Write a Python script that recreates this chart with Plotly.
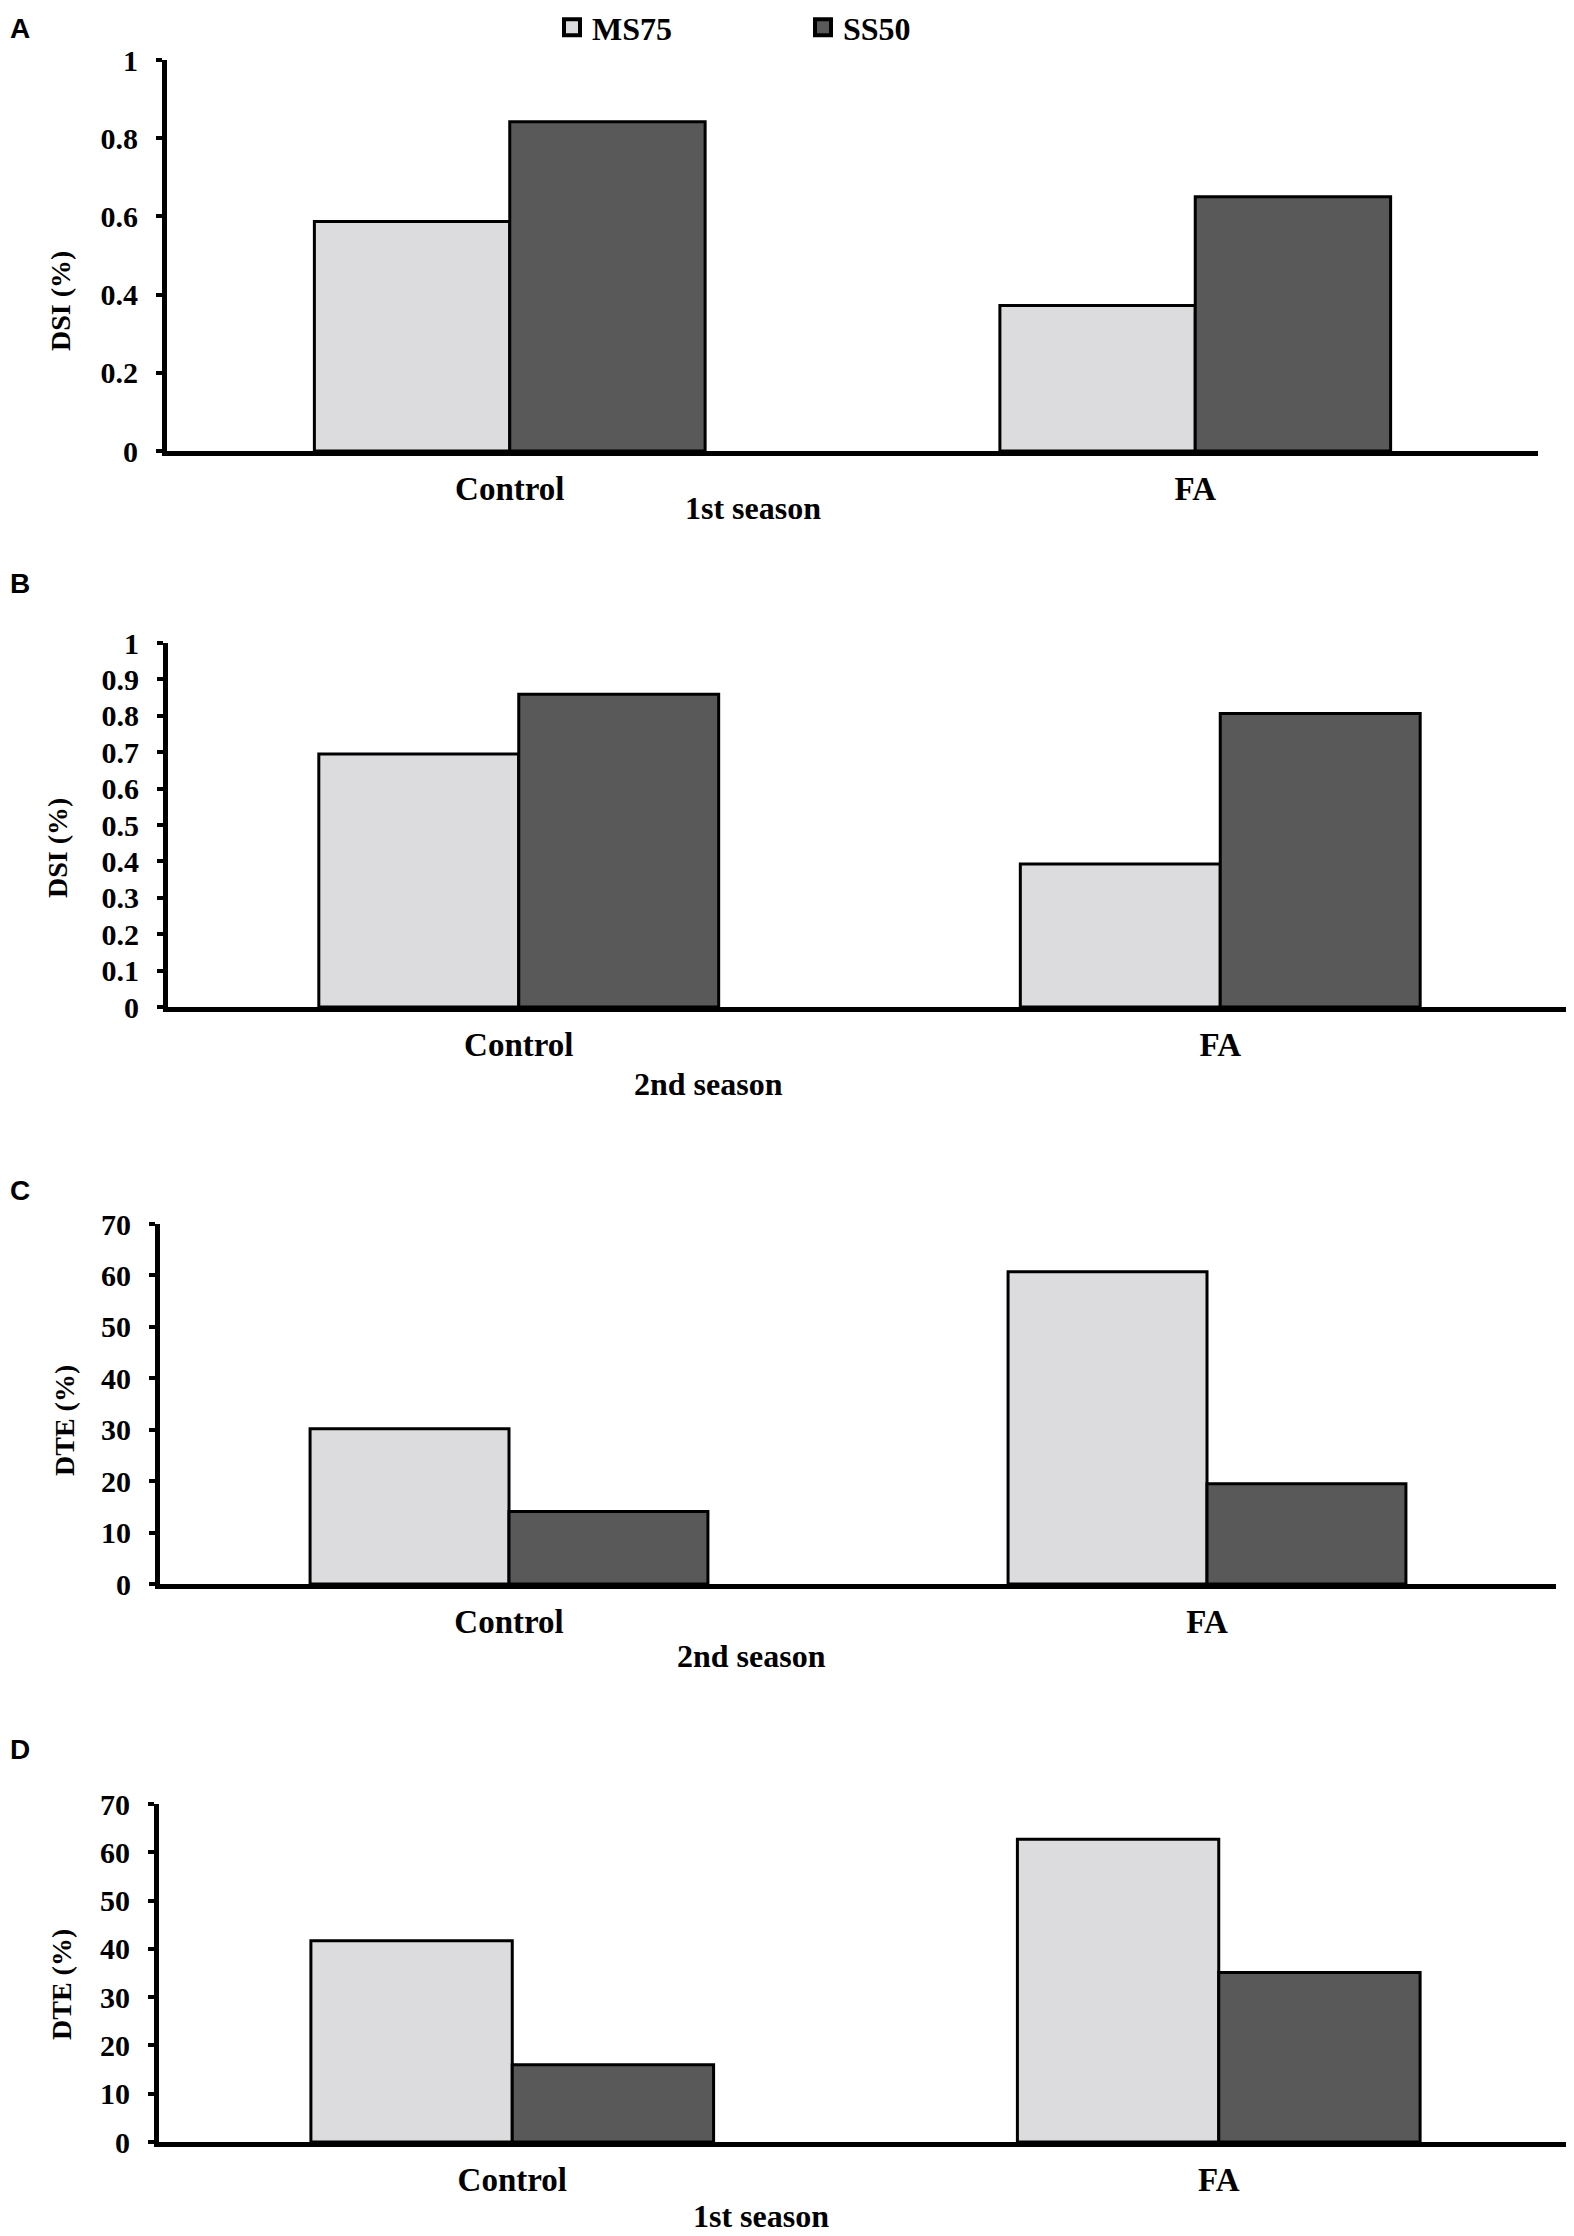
import plotly.graph_objects as go

categories = ["Control", "FA"]

# panel values
dsi_1st_ms75 = [0.587, 0.372]
dsi_1st_ss50 = [0.842, 0.650]
dsi_2nd_ms75 = [0.695, 0.393]
dsi_2nd_ss50 = [0.859, 0.806]
dte_2nd_ms75 = [30.2, 60.7]
dte_2nd_ss50 = [14.1, 19.5]
dte_1st_ms75 = [41.7, 62.7]
dte_1st_ss50 = [16.0, 35.1]

panels = [
    ("A", dsi_1st_ms75, dsi_1st_ss50, "DSI (%)", "1st season", [0, 1], 0.2),
    ("B", dsi_2nd_ms75, dsi_2nd_ss50, "DSI (%)", "2nd season", [0, 1], 0.1),
    ("C", dte_2nd_ms75, dte_2nd_ss50, "DTE (%)", "2nd season", [0, 70], 10),
    ("D", dte_1st_ms75, dte_1st_ss50, "DTE (%)", "1st season", [0, 70], 10),
]

# page body has an 8px margin, so the figure is sized to fit inside it
OFF = 8
W, H = 1574 - OFF, 2236 - OFF

# plot areas in page pixels: left, right, top, bottom
boxes = [
    (167, 1538, 60, 451),
    (168, 1571, 643, 1007),
    (160, 1556, 1224, 1584),
    (159, 1572, 1804, 2142),
]
ytitle_pos = [(60, 301), (57, 848), (64, 1421), (61, 1985)]
season_pos = [(753, 508), (708, 1084), (751, 1656), (761, 2216)]
letter_pos = [(8, 28), (8, 583), (8, 1190), (8, 1749)]


def px(x, y):
    return (x - OFF) / W, 1 - (y - OFF) / H


LIGHT = "#dcdcde"
DARK = "#595959"
serif = "Liberation Serif"


def bold(size, family=serif):
    return dict(family=family, size=size, color="black", weight="bold")


fig = go.Figure()
annotations = []

for i, (letter, ms, ss, ytitle, season, yr, dt) in enumerate(panels):
    n = "" if i == 0 else str(i + 1)
    l, r, t, b = boxes[i]
    x0, y0 = px(l, b)
    x1, y1 = px(r, t)
    fig.add_trace(go.Bar(x=categories, y=ms, name="MS75", marker_color=LIGHT,
                         marker_line=dict(color="black", width=3),
                         xaxis="x" + n, yaxis="y" + n, showlegend=False))
    fig.add_trace(go.Bar(x=categories, y=ss, name="SS50", marker_color=DARK,
                         marker_line=dict(color="black", width=3),
                         xaxis="x" + n, yaxis="y" + n, showlegend=False))
    fig.layout["xaxis" + n] = dict(
        domain=[max(0, x0), min(1, x1)], anchor="y" + n,
        showline=True, linecolor="black", linewidth=5,
        ticks="", showgrid=False, ticklabelstandoff=4, automargin=False,
        tickfont=bold(33),
    )
    fig.layout["yaxis" + n] = dict(
        domain=[max(0, y0), min(1, y1)], anchor="x" + n,
        range=yr, dtick=dt, showline=True, linecolor="black", linewidth=5,
        ticks="outside", ticklen=6, tickwidth=4, tickcolor="black",
        ticklabelstandoff=12,
        showgrid=False, zeroline=False, automargin=False,
        tickfont=bold(30),
    )
    ax, ay = px(*ytitle_pos[i])
    annotations.append(dict(text=ytitle, x=ax, y=ay, xanchor="center", yanchor="middle",
                            xref="paper", yref="paper", showarrow=False, textangle=-90,
                            font=bold(28)))
    sx, sy = px(*season_pos[i])
    annotations.append(dict(text=season, x=sx, y=sy, xanchor="center", yanchor="middle",
                            xref="paper", yref="paper", showarrow=False,
                            font=bold(32)))
    lx, ly = px(*letter_pos[i])
    annotations.append(dict(text=letter, x=lx, y=ly, xanchor="left", yanchor="middle",
                            xref="paper", yref="paper", showarrow=False,
                            font=bold(28, "Liberation Sans")))

# legend entries shown as square markers, like the reference key boxes
fig.add_trace(go.Scatter(x=[None], y=[None], mode="markers", name="MS75",
                         marker=dict(symbol="square", size=16, color=LIGHT,
                                     line=dict(color="black", width=4))))
fig.add_trace(go.Scatter(x=[None], y=[None], mode="markers", name="SS50",
                         marker=dict(symbol="square", size=16, color=DARK,
                                     line=dict(color="black", width=4))))

legx, _ = px(552, 0)
fig.update_layout(
    width=W, height=H,
    margin=dict(l=0, r=0, t=0, b=0, autoexpand=False),
    paper_bgcolor="white", plot_bgcolor="white",
    barmode="group", bargap=0.43, bargroupgap=0,
    annotations=annotations,
    legend=dict(orientation="h", x=legx, y=1 + 8 / H, xanchor="left", yanchor="top",
                entrywidth=206, entrywidthmode="pixels", itemwidth=30,
                itemsizing="trace",
                font=bold(32),
                bgcolor="rgba(0,0,0,0)"),
)

fig.write_html("out.html")
